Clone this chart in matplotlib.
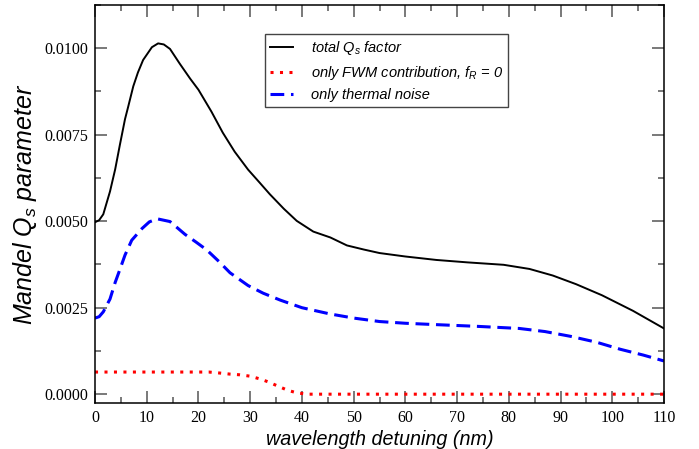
import numpy as np
import matplotlib
matplotlib.use("Agg")
import matplotlib.pyplot as plt

# values
wl_total = [0, 0.8, 1.6, 2.9, 3.9, 4.8, 5.8, 6.4, 7.4, 8.3, 9.3, 11, 12.2, 13.3, 14.5,
            16.4, 18.4, 20, 22.5, 24.7, 27, 29.6, 31.8, 33.8, 36.5, 39, 42.2, 45.5,
            48.7, 52, 55, 60, 66, 72, 79, 84, 88.5, 93, 98, 104, 110]
q_total = [0.00497, 0.00503, 0.0052, 0.00586, 0.0065, 0.0072, 0.00795, 0.0083, 0.0089,
           0.0093, 0.00966, 0.01003, 0.01014, 0.01011, 0.00998, 0.00955, 0.00912,
           0.0088, 0.00817, 0.00756, 0.00701, 0.00649, 0.00612, 0.00578, 0.00536,
           0.00501, 0.0047, 0.00453, 0.0043, 0.00418, 0.00408, 0.00398, 0.00388,
           0.00381, 0.00374, 0.00362, 0.00343, 0.00318, 0.00286, 0.00241, 0.0019]

wl_fwm = [0, 22, 24.2, 26.1, 28, 30, 31.9, 33.6, 35.4, 37.3, 39, 41, 110]
q_fwm = [0.00064, 0.00064, 0.00061, 0.00058, 0.00056, 0.00052, 0.00044, 0.00035,
         0.00023, 0.00011, 0.00004, 0.0, 0.0]

wl_thermal = [0, 0.8, 1.6, 2.9, 3.9, 4.8, 5.8, 7.1, 9.1, 10.5, 12, 14.5, 17.4, 19.5,
              21.6, 24, 26.1, 29.6, 32.5, 35.8, 40, 45.4, 50, 55, 60, 66, 74, 82,
              87, 92, 97, 101.5, 106, 110]
q_thermal = [0.0022, 0.00224, 0.00238, 0.00275, 0.00323, 0.0036, 0.00402, 0.00445,
             0.00479, 0.00498, 0.00507, 0.00499, 0.00462, 0.0044, 0.00417, 0.00383,
             0.00351, 0.00314, 0.00292, 0.00272, 0.0025, 0.00232, 0.0022, 0.0021,
             0.00205, 0.00201, 0.00196, 0.0019, 0.00181, 0.00167, 0.0015, 0.0013,
             0.00113, 0.00096]

plt.rcParams['font.family'] = 'Liberation Sans'
plt.rcParams['mathtext.fontset'] = 'custom'
plt.rcParams['mathtext.it'] = 'Liberation Sans:italic'
plt.rcParams['mathtext.rm'] = 'Liberation Sans:italic'

fig = plt.figure(figsize=(6.99, 4.49), dpi=100)
ax = fig.add_axes([95/699, 46/449, 569/699, 398/449])

ax.plot(wl_total, q_total, c='black', ls='-', lw=1.4, label='total $Q_s$ factor')
ax.plot(wl_fwm, q_fwm, c='red', ls=(0, (1, 2.1)), lw=2.2,
        label='only FWM contribution, $f_R$ = 0')
ax.plot(wl_thermal, q_thermal, c='blue', ls=(0, (4.5, 2.2)), lw=2.2,
        label='only thermal noise')

ax.set_xlim(0, 110)
ax.set_ylim(-0.000255, 0.01102)
ax.set_xticks(np.arange(0, 111, 10))
ax.set_xticks(np.arange(5, 110, 10), minor=True)
ax.set_yticks([0, 0.0025, 0.005, 0.0075, 0.01])
ax.set_yticks([0.00125, 0.00375, 0.00625, 0.00875, 0.01125], minor=True)
ax.set_yticklabels(['0.0000', '0.0025', '0.0050', '0.0075', '0.0100'])

ax.tick_params(which='both', direction='in', top=True, right=True,
               color='#555555', width=1.1)
ax.tick_params(which='major', length=8.5, pad=5)
ax.tick_params(which='minor', length=4.3)
for lab in ax.get_xticklabels() + ax.get_yticklabels():
    lab.set_fontfamily('Liberation Serif')
    lab.set_fontsize(11.5)
for sp in ax.spines.values():
    sp.set_linewidth(1.1)

ax.set_xlabel('wavelength detuning (nm)', fontsize=14.2, style='italic', labelpad=3)
ax.set_ylabel('Mandel $Q_s$ parameter', fontsize=18, style='italic', labelpad=4)

leg = ax.legend(loc='upper left', bbox_to_anchor=(0.2988, 0.927), borderaxespad=0,
                prop={'style': 'italic', 'size': 10.5}, fancybox=False,
                edgecolor='#444444', framealpha=1, handlelength=1.6,
                handletextpad=1.2, borderpad=0.35, labelspacing=0.45)
leg.get_frame().set_linewidth(1.0)

fig.savefig('out.png', dpi=100)
